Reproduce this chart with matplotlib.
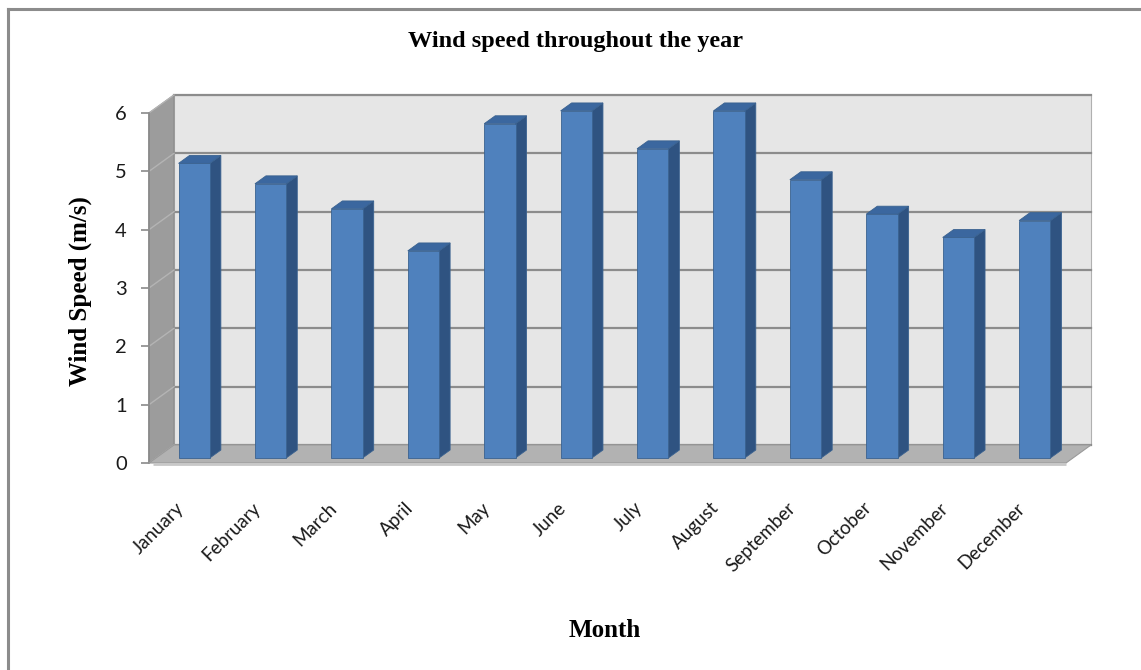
import matplotlib.pyplot as plt
from matplotlib.patches import Polygon
from matplotlib.lines import Line2D
from matplotlib.transforms import ScaledTranslation

months = ["January", "February", "March", "April", "May", "June",
          "July", "August", "September", "October", "November", "December"]
wind_speed = [5.05, 4.70, 4.27, 3.55, 5.73, 5.95, 5.30, 5.95, 4.77, 4.18, 3.78, 4.07]
y_ticks = [0, 1, 2, 3, 4, 5, 6]

# oblique depth of the chart box, in data units
depth_x = 0.327
depth_y = 0.309
# bar front / back planes as a fraction of the box depth
bar_f0, bar_f1 = 0.28, 0.72
bar_w = 0.41

W, H = 1141, 670
fig = plt.figure(figsize=(W / 100, H / 100), dpi=100)
fig.patch.set_facecolor("white")

# front plane of the box in pixels: x 149..1066, y 463 (0) .. 113 (6)
ax = fig.add_axes([149 / W, 1 - 463 / H, (1066 - 149) / W, (463 - 113) / H])
ax.set_xlim(0, 12)
ax.set_ylim(0, 6)
ax.set_facecolor("none")
for s in ["top", "right", "bottom"]:
    ax.spines[s].set_visible(False)
ax.spines["left"].set_color("#8a8a8a")
ax.spines["left"].set_linewidth(1.2)

n = len(months)
ymax = y_ticks[-1]

# back wall
back = Polygon([(depth_x, depth_y), (n + depth_x, depth_y),
                (n + depth_x, ymax + depth_y), (depth_x, ymax + depth_y)],
               closed=True, facecolor="#e6e6e6", edgecolor="#b0b0b0",
               linewidth=0.8, clip_on=False, zorder=1)
ax.add_patch(back)

# left side wall
side = Polygon([(0, 0), (depth_x, depth_y), (depth_x, ymax + depth_y), (0, ymax)],
               closed=True, facecolor="#9c9c9c", edgecolor="#8a8a8a",
               linewidth=0.8, clip_on=False, zorder=1)
ax.add_patch(side)

# gridlines on back and side walls
for t in y_ticks:
    ax.plot([depth_x, n + depth_x], [t + depth_y, t + depth_y],
            color="#8c8c8c", linewidth=1.6, clip_on=False, zorder=2)
    ax.plot([0, depth_x], [t, t + depth_y],
            color="#b4b4b4", linewidth=1.0, clip_on=False, zorder=2)

# floor
floor = Polygon([(0, 0), (n, 0), (n + depth_x, depth_y), (depth_x, depth_y)],
                closed=True, facecolor="#b2b2b2", edgecolor="#9a9a9a",
                linewidth=0.8, clip_on=False, zorder=3)
ax.add_patch(floor)
ax.plot([0.05, n], [-0.02, -0.02], color="#c8c8c8", linewidth=2.0,
        clip_on=False, zorder=3, solid_capstyle="butt")

# bars
front_c, side_c, top_c, edge_c = "#4f81bd", "#2f5381", "#3b679f", "#3a6290"
ox0, oy0 = bar_f0 * depth_x, bar_f0 * depth_y
bdx, bdy = (bar_f1 - bar_f0) * depth_x, (bar_f1 - bar_f0) * depth_y
for i, v in enumerate(wind_speed):
    x0 = i + 0.5 - bar_w / 2 + ox0
    x1 = x0 + bar_w
    y0 = oy0
    y1 = v + oy0
    ax.add_patch(Polygon([(x1, y0), (x1 + bdx, y0 + bdy), (x1 + bdx, y1 + bdy), (x1, y1)],
                         closed=True, facecolor=side_c, edgecolor=edge_c,
                         linewidth=0.6, clip_on=False, zorder=4))
    ax.add_patch(Polygon([(x0, y1), (x1, y1), (x1 + bdx, y1 + bdy), (x0 + bdx, y1 + bdy)],
                         closed=True, facecolor=top_c, edgecolor=edge_c,
                         linewidth=0.6, clip_on=False, zorder=4))
    ax.add_patch(Polygon([(x0, y0), (x1, y0), (x1, y1), (x0, y1)],
                         closed=True, facecolor=front_c, edgecolor=edge_c,
                         linewidth=0.6, clip_on=False, zorder=5))

# axes ticks and labels
ax.set_yticks(y_ticks)
ax.set_yticklabels([str(t) for t in y_ticks], fontfamily="Lato", fontsize=14.5)
ax.tick_params(axis="y", length=6, width=1.2, color="#8a8a8a", pad=10, labelcolor="#1a1a1a")

ax.set_xticks([i + 0.5 for i in range(n)])
ax.set_xticklabels(months, fontfamily="Lato", fontsize=13.5)
ax.tick_params(axis="x", length=0, pad=26, labelcolor="#1a1a1a")
shift = ScaledTranslation(-12 / 100, 0, fig.dpi_scale_trans)
for lab in ax.get_xticklabels():
    lab.set_rotation(45)
    lab.set_ha("right")
    lab.set_rotation_mode("anchor")
    lab.set_transform(lab.get_transform() + shift)

ax.set_ylabel("Wind Speed (m/s)", fontfamily="Liberation Serif",
              fontweight="bold", fontsize=18)
ax.yaxis.set_label_coords(-0.062, 0.49)
ax.set_xlabel("Month", fontfamily="Liberation Serif", fontweight="bold", fontsize=18)
ax.xaxis.set_label_coords(0.497, -0.445)

fig.text(575 / W, 1 - 42 / H, "Wind speed throughout the year",
         fontfamily="Liberation Serif", fontweight="bold", fontsize=17.5,
         ha="center", va="center")

# chart-area frame
fig.add_artist(Line2D([7.5 / W, 7.5 / W], [0, 1 - 8.5 / H],
                      transform=fig.transFigure, color="#8c8c8c", linewidth=2.2))
fig.add_artist(Line2D([7.5 / W, 1], [1 - 8.5 / H, 1 - 8.5 / H],
                      transform=fig.transFigure, color="#8c8c8c", linewidth=2.2))

fig.savefig("out.png", dpi=100)
